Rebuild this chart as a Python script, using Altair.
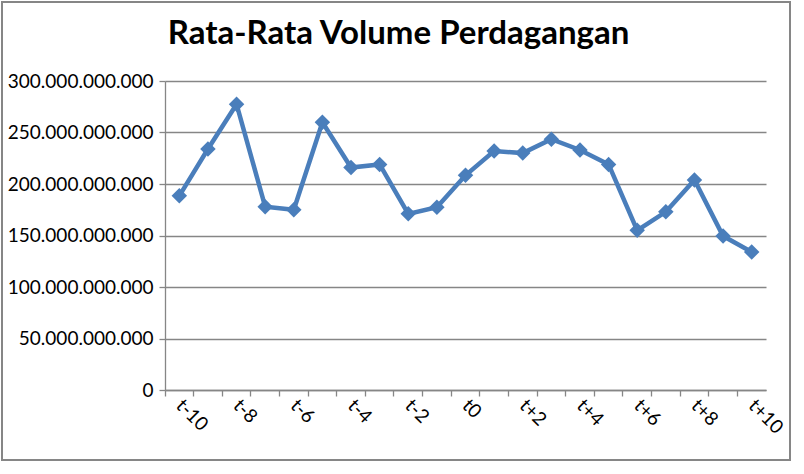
import altair as alt
import pandas as pd

periods = ["t-10", "t-9", "t-8", "t-7", "t-6", "t-5", "t-4", "t-3", "t-2", "t-1", "t0",
           "t+1", "t+2", "t+3", "t+4", "t+5", "t+6", "t+7", "t+8", "t+9", "t+10"]
volumes = [188.5e9, 234e9, 277.5e9, 178e9, 175e9, 260e9, 216e9, 219e9, 171e9, 177.5e9, 208.5e9,
           232e9, 230e9, 243.5e9, 233e9, 219e9, 155e9, 173e9, 204e9, 149.5e9, 134e9]
shown_labels = ["t-10", "t-8", "t-6", "t-4", "t-2", "t0", "t+2", "t+4", "t+6", "t+8", "t+10"]
y_ticks = [0, 50e9, 100e9, 150e9, 200e9, 250e9, 300e9]

df = pd.DataFrame({"period": periods, "volume": volumes})

W, H = 601, 309
GRAY = "#868686"
BLUE = "#4A7EBB"
FONT = "Lato"

xscale = alt.Scale(type="band", domain=periods, paddingInner=0, paddingOuter=0)
yscale = alt.Scale(domain=[0, 300e9])

yaxis = alt.Axis(values=y_ticks, grid=True, gridColor=GRAY, gridWidth=1.3,
                 domainColor=GRAY, domainWidth=1.3, tickColor=GRAY, tickSize=6, tickWidth=1.3,
                 labelFont=FONT, labelFontSize=19, labelColor="black", labelPadding=6,
                 labelExpr="replace(format(datum.value, ','), /,/g, '.')", title=None)

line = alt.Chart(df).mark_line(color=BLUE, strokeWidth=4.5).encode(
    x=alt.X("period:N", sort=periods, scale=xscale,
            axis=alt.Axis(values=shown_labels, labelAngle=45, labelAlign="left",
                          labelBaseline="middle", labelFont=FONT, labelFontSize=19,
                          labelColor="black", ticks=False, domainColor=GRAY,
                          domainWidth=1.3, labelPadding=12, title=None, orient="bottom")),
    y=alt.Y("volume:Q", scale=yscale, axis=yaxis),
)

points = alt.Chart(df).mark_point(shape="diamond", filled=True, color=BLUE, size=240, opacity=1).encode(
    x=alt.X("period:N", sort=periods, scale=xscale,
            axis=alt.Axis(bandPosition=0, labels=False, ticks=True, tickColor=GRAY,
                          tickSize=6, tickWidth=1.3, domain=False, title=None, orient="bottom")),
    y=alt.Y("volume:Q", scale=yscale, axis=yaxis),
)

border = alt.Chart(df).mark_rect(fill=None, stroke=GRAY, strokeWidth=1.5).encode(
    x=alt.value(-163), x2=alt.value(W + 24), y=alt.value(-79), y2=alt.value(379)
)

chart = alt.layer(line, points, border).resolve_axis(x="independent").properties(
    width=W, height=H,
    title=alt.TitleParams("Rata-Rata Volume Perdagangan", font=FONT, fontSize=33,
                          fontWeight="bold", color="black", anchor="middle", dx=-67,
                          offset=-83, baseline="bottom"),
    autosize=alt.AutoSizeParams(type="none"),
    padding={"left": 165, "top": 81, "right": 38, "bottom": 84},
).configure(background="white").configure_view(stroke=None)

chart.save("out.html", embed_options={"renderer": "svg", "actions": False})
